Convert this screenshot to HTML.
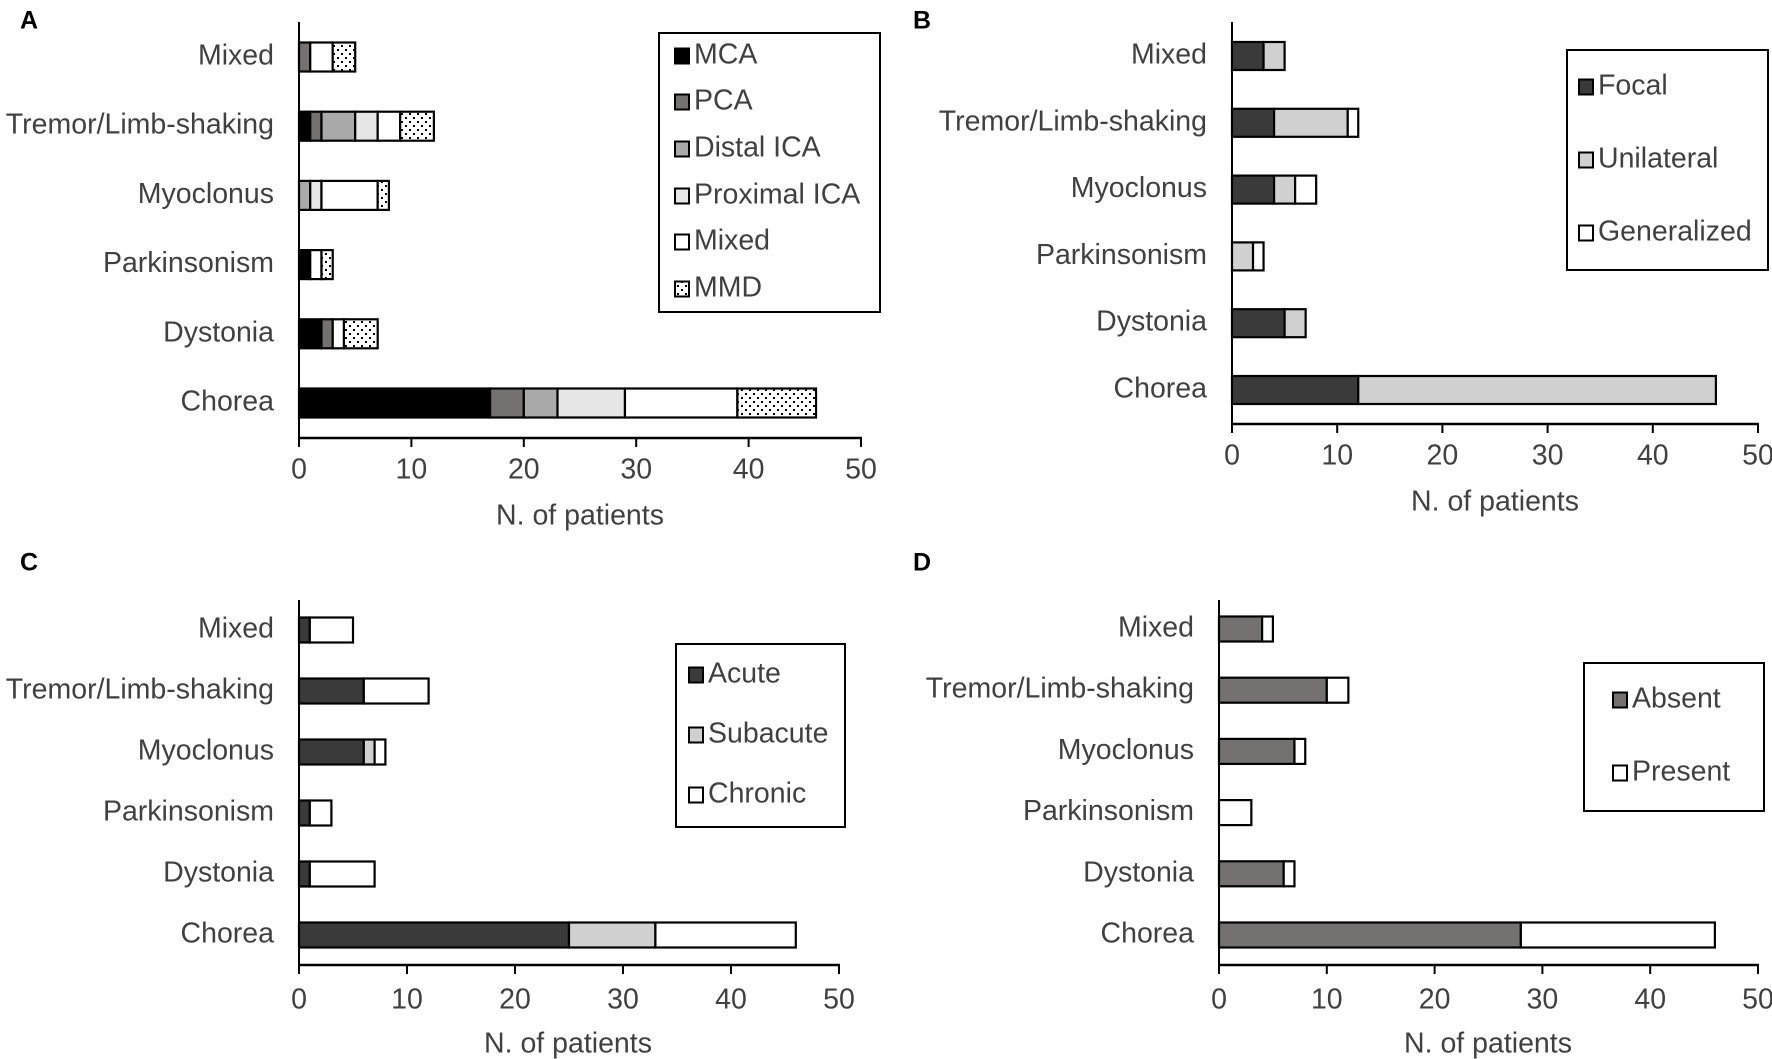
<!DOCTYPE html>
<html><head><meta charset="utf-8"><style>
html,body{margin:0;padding:0;background:#fff;}
svg{display:block;font-family:"Liberation Sans",Arial,sans-serif;}
</style></head><body>
<svg id="fig" width="1772" height="1059" viewBox="0 0 1772 1059" xmlns="http://www.w3.org/2000/svg">
<defs>
<pattern id="dots" width="8" height="8" patternUnits="userSpaceOnUse">
<rect width="8" height="8" fill="#fff"/>
<rect x="1" y="1" width="2" height="2" fill="#000"/>
<rect x="5" y="5" width="2" height="2" fill="#000"/>
</pattern>
</defs>
</svg>
<script>
const categories = ["Mixed","Tremor/Limb-shaking","Myoclonus","Parkinsonism","Dystonia","Chorea"];
const xTicks = [0,10,20,30,40,50];
// Panel A
const seriesA = ["MCA","PCA","Distal ICA","Proximal ICA","Mixed","MMD"];
const aMCA = [0,1,0,1,2,17];
const aPCA = [1,1,0,0,1,3];
const aDistal = [0,3,1,0,0,3];
const aProximal = [0,2,1,0,0,6];
const aMixed = [2,2,5,1,1,10];
const aMMD = [2,3,1,1,3,7];
// Panel B
const seriesB = ["Focal","Unilateral","Generalized"];
const bFocal = [3,4,4,0,5,12];
const bUnilateral = [2,7,2,2,2,34];
const bGeneralized = [0,1,2,1,0,0];
// Panel C
const seriesC = ["Acute","Subacute","Chronic"];
const cAcute = [1,6,6,1,1,25];
const cSubacute = [0,0,1,0,0,8];
const cChronic = [4,6,1,2,6,13];
// Panel D
const seriesD = ["Absent","Present"];
const dAbsent = [4,10,7,0,6,28];
const dPresent = [1,2,1,3,1,18];

const FS = 28.5;
const svg = document.getElementById('fig');
const NS = 'http://www.w3.org/2000/svg';
function mk(tag, attrs, parent){
  const e = document.createElementNS(NS, tag);
  for (const k in attrs) e.setAttribute(k, attrs[k]);
  (parent||svg).appendChild(e);
  return e;
}
function panel(p){
  const g = mk('g', {});
  
  
  const xs = v => p.x0 + (p.x50 - p.x0) * v / 50;
  const yc = i => p.yFirst + (p.yLast - p.yFirst) * i / (categories.length - 1);
  const lab = mk('text', {x:p.lx, y:p.ly, 'font-size':25, 'font-weight':'bold', fill:'#000', 'dominant-baseline':'middle'}, g);
  lab.textContent = p.id;
  
  
  categories.forEach((c, i) => {
    let acc = 0;
    p.series.forEach((s, k) => {
      const v = p.values[k][i];
      if (v > 0) {
        const r = mk('rect', {x:xs(acc), y:yc(i)-p.bh/2, width:xs(acc+v)-xs(acc), height:p.bh, fill:p.colors[k], stroke:'#000', 'stroke-width':2.2}, g);
        
        
      }
      acc += v;
    });
    const t = mk('text', {x:p.labR, y:yc(i), 'font-size':FS, fill:'#404040', 'text-anchor':'end', 'dominant-baseline':'middle'}, g);
    t.textContent = c;
    
    
  });
  const ya = mk('line', {x1:p.x0, y1:p.yTop, x2:p.x0, y2:p.axisY, stroke:'#000', 'stroke-width':2}, g);
  
  
  const xa = mk('line', {x1:p.x0-1, y1:p.axisY, x2:p.x50+1, y2:p.axisY, stroke:'#000', 'stroke-width':2.5}, g);
  
  
  xTicks.forEach(v => {
    const tk = mk('line', {x1:xs(v), y1:p.axisY, x2:xs(v), y2:p.axisY+9, stroke:'#000', 'stroke-width':2}, g);
    
    
    const tl = mk('text', {x:xs(v), y:p.tickY, 'font-size':FS, fill:'#404040', 'text-anchor':'middle', 'dominant-baseline':'middle'}, g);
    tl.textContent = v;
    
    
  });
  const at = mk('text', {x:p.titleX, y:p.titleY, 'font-size':FS, fill:'#404040', 'text-anchor':'middle', 'dominant-baseline':'middle'}, g);
  at.textContent = 'N. of patients';
  
  
  const lg = mk('g', {}, g);
  
  
  mk('rect', {x:p.leg[0], y:p.leg[1], width:p.leg[2]-p.leg[0], height:p.leg[3]-p.leg[1], fill:'#fff', stroke:'#000', 'stroke-width':2}, lg);
  p.series.forEach((s, k) => {
    const y = p.legY[k];
    const e = mk('g', {}, lg);
    
    
    mk('rect', {x:p.swX, y:y-7.5, width:14, height:15, fill:p.colors[k], stroke:'#000', 'stroke-width':2}, e);
    const tt = mk('text', {x:p.swX+19, y:y, 'font-size':FS, fill:'#404040', 'dominant-baseline':'middle'}, e);
    tt.textContent = s;
  });
}
panel({id:'A', x0:299, x50:861, yFirst:57, yLast:403, bh:29, yTop:22, axisY:438, tickY:471, titleX:580, titleY:517, labR:274, lx:20, ly:22,
  series:seriesA, values:[aMCA,aPCA,aDistal,aProximal,aMixed,aMMD],
  colors:['#000','#767171','#a9a9a9','#e6e6e6','#fff','url(#dots)'],
  leg:[659,33,880,312], legY:[56,102,149,196,242,289], swX:675});
panel({id:'B', x0:1232, x50:1758, yFirst:56, yLast:390, bh:28, yTop:22, axisY:424, tickY:457, titleX:1495, titleY:503, labR:1207, lx:913, ly:22,
  series:seriesB, values:[bFocal,bUnilateral,bGeneralized],
  colors:['#3a3a3a','#d0d0d0','#fff'],
  leg:[1567,50,1768,270], legY:[87,160,233], swX:1579});
panel({id:'C', x0:299, x50:839, yFirst:630, yLast:935, bh:25, yTop:600, axisY:965, tickY:1001, titleX:568, titleY:1045, labR:274, lx:20, ly:564,
  series:seriesC, values:[cAcute,cSubacute,cChronic],
  colors:['#3a3a3a','#d0d0d0','#fff'],
  leg:[676,644,845,827], legY:[675,735,795], swX:689});
panel({id:'D', x0:1219, x50:1758, yFirst:629, yLast:935, bh:25, yTop:600, axisY:965, tickY:1001, titleX:1488, titleY:1045, labR:1194, lx:913, ly:564,
  series:seriesD, values:[dAbsent,dPresent],
  colors:['#767171','#fff'],
  leg:[1584,663,1764,811], legY:[700,773], swX:1613});
</script>
</body></html>
